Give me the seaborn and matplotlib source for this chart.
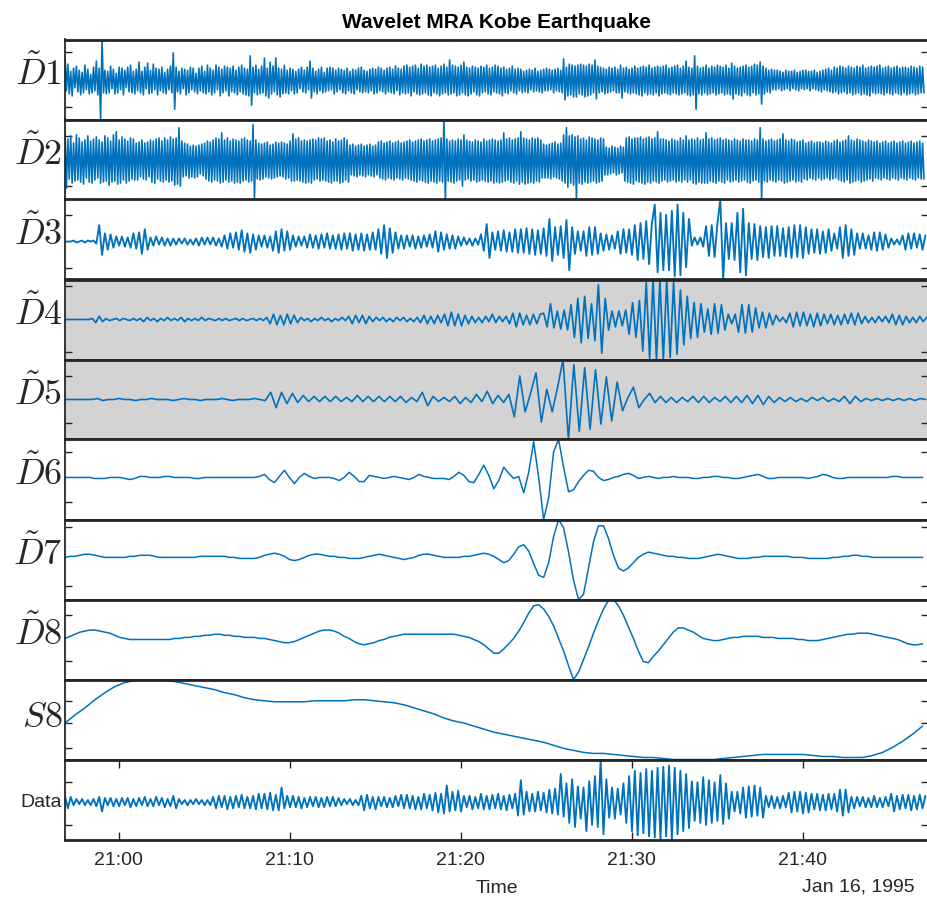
import numpy as np
import pandas as pd
import matplotlib
matplotlib.use("Agg")
import matplotlib.pyplot as plt
import matplotlib.dates as mdates
import seaborn as sns

# ---------------- data ----------------
start_time = "1995-01-16 20:56:51"
panel_names = ["D1", "D2", "D3", "D4", "D5", "D6", "D7", "D8", "S8", "Data"]
# sample spacing (seconds) of the values read for each panel
step_seconds = [5, 5, 10, 12, 19, 17.5, 17.5, 17.5, 35, 10]
x_tick_labels = ["21:00", "21:10", "21:20", "21:30", "21:40"]

d1 = [24, -10, 16, -13, 9, -15, 12, -7, 14, -11,
      10, -14, 8, -12, 15, -9, 11, -13, 6, -12,
      13, -10, 19, -14, 12, -38, 40, -12, 10,
      -13, 9, -12, 14, -8, 11, -13, 7, -12, 13,
      -9, 12, -14, 10, -7, 13, -11, 15, -12, 9,
      -13, 11, -10, 18, -12, 9, -14, 13, -8, 17,
      -13, 10, -12, 16, -9, 12, -14, 11, -10, 13,
      -12, 8, -13, 11, -9, 14, -12, 27, -28,
      13, -11, 9, -13, 12, -8, 11, -14, 10, -12,
      13, -9, 12, -11, 7, -13, 12, -10, 14, -12,
      9, -13, 15, -11, 12, -14, 10, -12, 15, -9,
      13, -15, 11, -12, 14, -10, 13, -15, 12, -11,
      14, -12, 10, -14, 13, -11, 15, -13, 12, -14,
      11, -15, 24, -24, 13, -12, 15, -14, 11, -13,
      14, -12, 22, -15, 12, -17, 18, -13, 14, -11,
      22, -14, 12, -16, 11, -13, 15, -12, 10, -13,
      12, -10, 11, -13, 9, -12, 11, -8, 13, -11,
      10, -12, 13, -9, 19, -17, 12, -11, 9, -13,
      11, -10, 13, -12, 8, -11, 12, -10, 13, -9,
      12, -13, 10, -11, 12, -9, 11, -12, 10, -13,
      12, -10, 9, -12, 11, -13, 10, -9, 12, -11,
      13, -12, 10, -11, 9, -12, 11, -10, 12, -13,
      11, -12, 13, -10, 12, -11, 10, -13, 12, -11,
      13, -12, 11, -13, 14, -10, 12, -14, 11, -12,
      14, -13, 15, -12, 13, -15, 14, -11, 15, -13,
      12, -14, 16, -13, 14, -12, 15, -14, 13, -15,
      14, -12, 15, -13, 12, -15, 14, -13, 16, -12,
      13, -14, 20, -13, 15, -12, 14, -15, 13, -14,
      15, -12, 18, -14, 13, -15, 12, -13, 14, -11,
      13, -14, 12, -15, 14, -12, 13, -11, 15, -13,
      12, -14, 13, -11, 15, -12, 14, -13, 12, -15,
      13, -12, 11, -13, 12, -10, 14, -12, 11, -13,
      12, -10, 11, -12, 9, -11, 10, -12, 11, -9,
      10, -11, 12, -10, 9, -11, 10, -12, 11, -10,
      12, -10, 11, -9, 10, -12, 11, -10, 12, -11,
      10, -12, 21, -19, 13, -15, 16, -14, 15, -16,
      14, -16, 15, -13, 16, -14, 15, -16, 14, -15,
      16, -14, 15, -12, 20, -18, 14, -12, 13, -11, 12,
      -13, 11, -12, 13, -11, 12, -10, 13, -12, 11,
      -12, 15, -17, 12, -11, 13, -12, 11, -13, 12,
      -12, 14, -13, 12, -14, 13, -15, 14, -12, 13,
      -14, 15, -13, 12, -14, 13, -12, 14, -15, 13,
      -13, 14, -12, 15, -13, 12, -14, 13, -12, 14,
      -13, 15, -14, 12, -13, 14, -12, 19, -14, 13,
      -15, 12, -14, 24, -28, 14, -13, 12, -14,
      13, -12, 15, -14, 12, -13, 14, -12, 13, -14,
      15, -13, 14, -12, 13, -14, 15, -13, 12, -14,
      17, -18, 14, -13, 12, -14, 13, -15, 14, -12,
      15, -14, 13, -15, 14, -12, 16, -14, 15, -13, 18,
      -23, 14, -13, 12, -11, 10, -12, 11, -9, 10,
      -9, 10, -8, 9, -10, 8, -9, 10, -8, 9,
      -10, 9, -8, 10, -9, 8, -10, 9, -8, 10,
      -9, 10, -8, 9, -10, 9, -8, 10, -9, 8,
      -10, 9, -11, 10, -9, 11, -10, 12, -11, 10,
      -12, 13, -11, 12, -13, 14, -12, 13, -11, 12,
      -13, 14, -12, 13, -14, 12, -13, 14, -12, 13,
      -14, 15, -13, 12, -14, 13, -15, 14, -12, 13,
      -13, 14, -12, 15, -13, 12, -14, 13, -12, 14,
      -13, 12, -14, 13, -12, 14, -13, 12, -14, 13,
      -12, 13, -14, 12, -13, 14, -12, 13, -14, 12,
      -13, 14, -12, 13, -12]

d2 = [27, -27, 21, -18, 24, -22, 17, -20, 25, -19,
      22, -21, 18, -23, 20, -17, 24, -21, 19, -22,
      21, -19, 23, -17, 20, -22, 18, -21, 24, -20,
      22, -24, 19, -21, 25, -20, 28, -23, 20, -22,
      23, -19, 21, -22, 19, -20, 22, -18, 21, -19,
      17, -19, 18, -16, 20, -18, 17, -19, 18, -16,
      20, -21, 19, -22, 21, -18, 22, -20, 19, -21,
      22, -19, 20, -21, 23, -20, 21, -24, 22, -23,
      32, -25, 19, -16, 17, -15, 16, -17, 14, -16,
      15, -17, 14, -16, 15, -13, 16, -15, 17, -18,
      19, -20, 18, -21, 20, -19, 22, -20, 21, -22,
      27, -21, 20, -19, 22, -21, 19, -20, 21, -22,
      20, -21, 19, -22, 21, -20, 22, -19, 20, -21,
      19, -20, 35, -37, 20, -18, 17, -19, 16, -18,
      17, -16, 18, -17, 15, -18, 16, -17, 18, -16,
      17, -15, 18, -16, 17, -18, 16, -17, 19, -20,
      26, -20, 21, -19, 22, -20, 19, -21, 20, -22,
      19, -21, 20, -22, 21, -19, 20, -18, 22, -20,
      21, -19, 22, -20, 19, -21, 20, -22, 18, -20,
      21, -20, 19, -22, 20, -21, 22, -19, 20, -21,
      15, -14, 16, -15, 14, -16, 15, -14, 16, -15,
      14, -16, 15, -14, 16, -15, 14, -16, 15, -14,
      18, -17, 19, -18, 17, -19, 18, -17, 19, -18,
      17, -19, 18, -17, 19, -18, 17, -19, 18, -17,
      19, -18, 20, -19, 18, -20, 19, -21, 20, -19,
      21, -20, 19, -21, 20, -22, 21, -20, 19, -21,
      20, -22, 21, -20, 22, -21, 40, -38, 21,
      -20, 19, -21, 20, -22, 19, -20, 21, -19, 20,
      -25, 25, -19, 20, -18, 19, -20, 18, -19, 20,
      -21, 19, -20, 18, -19, 21, -20, 19, -21, 20,
      -20, 21, -22, 20, -21, 19, -22, 20, -21, 27,
      -20, 21, -19, 22, -21, 20, -22, 21, -20, 22,
      -23, 28, -21, 22, -23, 21, -22, 20, -21, 22,
      -22, 21, -20, 22, -21, 20, -17, 16, -17, 15,
      -17, 16, -18, 17, -16, 18, -17, 16, -18, 17,
      -20, 25, -22, 32, -26, 24, -22, 25, -24, 23,
      -37, 24, -22, 21, -23, 22, -21, 20, -22, 23,
      -21, 22, -20, 21, -22, 20, -21, 22, -20, 21,
      -14, 13, -14, 12, -13, 14, -12, 13, -14, 12,
      -13, 14, -12, 13, -20, 22, -21, 23, -22, 21,
      -23, 22, -20, 22, -21, 23, -22, 21, -23, 22,
      -21, 23, -22, 21, -20, 22, -21, 28, -22, 21,
      -20, 21, -19, 20, -21, 19, -20, 21, -19, 20,
      -21, 19, -20, 22, -21, 20, -19, 24, -21, 20,
      -19, 21, -22, 20, -23, 22, -21, 20, -22, 21,
      -22, 27, -22, 21, -20, 22, -21, 20, -22, 21,
      -20, 22, -21, 20, -22, 21, -19, 20, -21, 19,
      -20, 21, -19, 20, -21, 19, -20, 21, -19, 20,
      -21, 20, -22, 19, -20, 21, -19, 20, -21, 32,
      -37, 21, -20, 19, -21, 20, -19, 21, -20, 19,
      -21, 20, -19, 21, -20, 26, -22, 20, -21, 19,
      -20, 21, -19, 20, -21, 18, -20, 19, -21, 20,
      -18, 17, -19, 18, -17, 19, -18, 17, -19, 18,
      -17, 18, -19, 17, -18, 19, -17, 18, -19, 17,
      -18, 19, -17, 20, -19, 18, -20, 19, -21, 20,
      -19, 24, -22, 20, -21, 19, -20, 21, -19, 20,
      -21, 19, -20, 18, -19, 20, -18, 19, -20, 18,
      -17, 19, -18, 17, -19, 18, -17, 19, -18, 17,
      -19, 18, -17, 19, -18, 17, -19, 18, -17, 19,
      -18, 17, -19, 18, -17, 19, -18, 17, -19, 18,
      -17, 19, -18, 17, -18]

d3 = [0, 0, 0, 1, -1, 0, 1, -1, 1, 0,
      1, -2, 16, -13, 8, -8, 7, -6, 5, -4,
      5, -5, 4, -6, 8, -7, 9, -12, 12, -8,
      4, -4, 5, -3, 4, -4, 3, -4, 3, -3,
      3, -2, 3, -3, 2, -3, 3, -4, 4, -3,
      4, -3, 4, -4, 3, -5, 6, -7, 8, -6,
      9, -8, 11, -10, 8, -11, 7, -8, 6, -5,
      6, -6, 5, -9, 10, -11, 12, -9, 10, -8,
      6, -5, 5, -4, 5, -6, 7, -6, 6, -7,
      7, -6, 8, -7, 6, -7, 7, -8, 8, -7,
      8, -9, 7, -8, 8, -9, 7, -8, 9, -8,
      12, -12, 16, -16, 13, -11, 9, -7, 6, -7,
      6, -5, 6, -7, 5, -6, 6, -5, 7, -6,
      10, -10, 9, -8, 7, -7, 6, -7, 5, -4,
      4, -3, 3, -4, 3, -3, 7, -9, 17, -16,
      9, -8, 10, -9, 11, -10, 9, -10, 12, -11,
      12, -11, 13, -12, 12, -13, 11, -12, 13, -14,
      22, -19, 14, -13, 15, -16, 21, -28, 14, -12,
      10, -9, 10, -14, 14, -13, 14, -12, 8, -9,
      7, -8, 6, -7, 10, -12, 12, -11, 12, -13,
      16, -18, 18, -17, 20, -22, 18, 36, -30, 28,
      -28, 26, -28, 30, -34, 36, -33, 28, -25, 22,
      -4, 4, -3, 4, -5, 15, -14, 16, -15, 18,
      41, -37, 18, -17, 18, -18, 28, -30, 32, -33,
      18, -17, 17, -18, 15, -15, 14, -16, 15, -14,
      15, -14, 13, -15, 14, -16, 16, -15, 16, -16,
      14, -12, 12, -11, 12, -12, 10, -11, 12, -9,
      8, -7, 14, -16, 16, -14, 12, -13, 8, -7,
      8, -7, 6, -8, 9, -9, 9, -8, 7, -6,
      3, -3, 2, -3, 6, -8, 8, -7, 8, -6,
      7, -8, 6]

d4 = [0, 0, 0, 0, 0, 0, 0, 0, 1, -3,
      3, -2, 1, -1, 0, 1, -1, 1, 0, -1,
      1, -1, 1, -2, 2, -1, 1, -2, 1, -1,
      2, -1, 1, -1, 2, -2, 1, -1, 1, -1,
      2, -1, 1, 0, -1, 1, -1, 1, -1, 0,
      1, -1, 1, -1, 0, 1, -1, 1, -1, 2,
      -4, 5, -5, 4, -5, 5, -4, 4, -3, 2,
      -1, 1, -2, 1, -1, 2, -1, 1, -2, 1,
      -1, 2, -1, 3, -4, 4, -3, 4, -4, 3,
      -2, 2, -1, 2, -2, 1, -2, 2, -1, 2,
      -2, 1, -2, 2, -3, 4, -4, 3, -4, 4,
      -3, 5, -6, 7, -6, 5, -6, 4, -4, 3,
      -3, 2, -3, 3, -2, 5, -3, 3, -2, 3,
      -4, 6, -7, 6, -5, 4, -5, 5, -4, 5,
      6, -7, 15, -8, 8, -9, 9, -10, 14, -17,
      20, -22, 22, -18, 15, -20, 33, -32, 20, -10,
      8, -7, 8, -6, 9, -14, 16, -17, 18, -30,
      35, -37, 38, -38, 37, -38, 38, -36, 35, -33,
      28, -24, 22, -18, 16, -17, 15, -12, 10, -14,
      15, -13, 14, -10, 5, -4, 5, -12, 14, -13,
      14, -12, 11, -8, 7, -8, 6, -5, 4, -2,
      2, -3, 6, -7, 7, -6, 7, -6, 5, -7,
      6, -6, 5, -4, 5, -5, 4, -5, 5, -4,
      6, -5, 6, -4, 3, -3, 2, -3, 3, -2,
      3, -3, 5, -5, 4, -5, 3, -3, 2, -3,
      3, -2, 2]

d5 = [0, 0, 0, 0, 0, 0, 1, -1, 0, 0,
      1, 0, 0, -1, 0, 0, 1, 0, 0, 0,
      -1, 0, 1, 0, 0, -1, 0, 0, 0, 1,
      0, -1, 0, 0, 0, 1, 0, -1, 7, -8,
      7, -4, 6, -3, 4, -2, 3, -2, 3, -2,
      3, -2, 2, -2, 4, -2, 3, -2, 3, -2,
      3, -2, 3, -3, 2, -2, 7, -6, 3, -2,
      2, -2, 3, -4, 2, -3, 5, -2, 8, -4,
      4, -3, 5, -17, 23, -12, 6, 26, -22, 10,
      -12, 12, 39, -39, 34, -31, 31, -29, 29, -24,
      22, -21, 17, -11, 2, 12, -8, 0, 6, -3,
      3, -3, 2, -3, 2, -2, 3, -3, 3, -3,
      2, -2, 3, -3, 3, -3, 4, -4, 4, -5,
      3, -3, 2, -2, 2, -2, 1, -2, 2, -1,
      2, -2, 1, -2, 3, -4, 3, -2, 1, -1,
      1, -1, 1, -1, 1, -1, 1, -1, 1, 0]

d6 = [0, 0, 0, 0, 0, 0, -1, -1, -1, 0,
      0, 0, -1, -2, -1, 1, 1, 0, 0, 0,
      1, 1, 0, 0, 0, 0, -1, -1, 0, 0,
      0, 0, 0, 0, 0, 0, 0, 0, 0, 1,
      3, -2, -5, 1, 7, 0, -6, 0, 4, 1,
      -1, 0, 0, 0, -1, -3, 0, 5, 1, -4,
      -4, 2, 1, 0, -1, 0, 1, 0, -1, -2,
      0, 3, 1, 0, -1, -1, -1, -2, 1, 5,
      2, -4, -5, 3, 12, 2, -11, -3, 10, 4,
      -1, 1, -15, 5, 35, 0, -41, -20, 25, 37,
      10, -14, -12, -4, 2, 7, 6, 0, -3, -2,
      0, 1, 3, 4, 2, -1, 0, 1, 0, -1,
      0, 0, 1, 0, 0, 0, -1, -1, 0, 0,
      1, 1, 0, 0, -1, -1, 0, 1, 2, 3,
      1, -1, -1, 0, 0, 0, 0, 0, 0, -1,
      0, 1, 3, 2, 0, -1, -1, 0, 0, 0,
      0, 0, 0, 0, 0, 0, 1, 1, 0, 0,
      0, 0, 0]

d7 = [0, 1, 1, 2, 3, 3, 2, 1, 0, 0,
      0, 0, 0, 1, 1, 2, 2, 2, 1, 0,
      0, 0, 0, 0, 0, 0, 0, 1, 1, 1,
      1, 1, 1, 0, 0, -1, -1, -1, -1, 0,
      2, 3, 4, 3, 1, -2, -3, -2, 0, 2,
      3, 3, 2, 1, 1, 0, 0, -1, -1, -1,
      0, 1, 2, 3, 2, 1, 0, -1, -2, -1,
      0, 2, 3, 3, 2, 1, 0, 0, 0, 0,
      1, 1, 2, 3, 4, 3, 1, -2, -5, -3,
      3, 10, 12, 6, -6, -17, -19, -5, 20, 36,
      28, 5, -22, -40, -35, -10, 15, 30, 30, 18,
      2, -10, -13, -10, -5, 0, 3, 5, 4, 3,
      2, 1, 1, 0, 0, -1, -1, -1, 0, 1,
      2, 3, 2, 1, 0, -1, -1, -1, 0, 0,
      1, 1, 1, 1, 1, 1, 0, 0, 0, -1,
      -1, -1, -1, -1, 0, 0, 1, 1, 2, 2,
      1, 1, 0, 0, 0, 0, 0, 0, 0, 0,
      0, 0, 0]

d8 = [0, 2, 4, 6, 7, 8, 8, 7, 6, 5,
      3, 1, 0, -1, -1, -1, -1, -1, -1, -1,
      -1, -1, 0, 0, 1, 1, 2, 2, 3, 3,
      4, 4, 3, 3, 2, 2, 1, 1, 1, 0,
      0, -1, -2, -3, -4, -4, -3, -1, 1, 3,
      5, 7, 8, 8, 7, 5, 2, 0, -3, -5,
      -6, -5, -4, -2, -1, 1, 2, 3, 4, 4,
      4, 4, 4, 4, 4, 4, 4, 4, 4, 3,
      2, 1, -1, -3, -6, -10, -14, -14, -10, -5,
      0, 7, 15, 24, 31, 32, 28, 21, 12, 0,
      -12, -26, -39, -32, -20, -8, 5, 17, 28, 36,
      37, 31, 22, 11, 0, -12, -22, -23, -17, -12,
      -6, 0, 6, 10, 10, 8, 6, 3, 0, -1,
      -2, -2, -1, 0, 1, 1, 2, 2, 2, 2,
      1, 1, 1, 0, 0, 0, 0, -1, -1, -2,
      -2, -2, -1, 0, 1, 2, 3, 4, 4, 5,
      5, 5, 4, 3, 2, 1, 0, -1, -3, -5,
      -6, -6, -5]

s8 = [37, 45, 52, 60, 67, 73, 77, 79, 80, 80,
      79, 78, 76, 74, 72, 70, 67, 65, 62, 60,
      59, 58, 58, 58, 58, 59, 59, 59, 59, 60,
      60, 59, 58, 57, 55, 52, 49, 46, 42, 39,
      37, 34, 31, 28, 26, 24, 22, 20, 18, 15,
      12, 10, 8, 7, 7, 6, 5, 4, 3, 3,
      2, 1, 1, 1, 1, 1, 2, 3, 4, 5,
      6, 6, 6, 6, 6, 5, 4, 4, 3, 3,
      3, 5, 8, 13, 19, 26, 34]

data = [6, -6, 5, -3, 3, -2, 3, -3, 2, -3,
        3, -4, 5, -9, 4, -3, 4, -4, 3, -4,
        4, -3, 4, -5, 3, -4, 4, -3, 5, -4,
        3, -4, 5, -3, 4, -5, 3, -4, 6, -6,
        3, -2, 2, -3, 2, -2, 3, -2, 2, -3,
        2, -3, 5, -6, 6, -5, 6, -7, 5, -6,
        6, -5, 7, -6, 5, -6, 6, -7, 8, -6,
        8, -7, 9, -8, 7, -8, 14, -6, 6, -5,
        6, -5, 5, -6, 4, -5, 5, -4, 5, -5,
        4, -5, 5, -4, 5, -4, 4, -3, 3, -2,
        3, -3, 2, -3, 6, -8, 7, -6, 5, -7,
        5, -4, 5, -5, 4, -5, 6, -4, 7, -6,
        7, -6, 6, -7, 5, -7, 8, -6, 7, -8,
        9, -10, 8, -11, 16, -9, 10, -8, 11, -9,
        6, -5, 6, -7, 5, -6, 8, -7, 6, -7,
        7, -6, 8, -7, 6, -8, 7, -6, 8, -13,
        21, -12, 10, -9, 8, -9, 10, -8, 9, -10,
        12, -11, 13, -12, 27, -14, 18, -20, 22, -24,
        15, -16, 14, -28, 20, -22, 25, -24, 41, -31,
        22, -15, 14, -16, 13, -12, 18, -20, 25, -28,
        30, -32, 28, -30, 32, -33, 30, -34, 33, -36,
        34, -33, 35, -36, 33, -31, 30, -28, 27, -25,
        20, -18, 19, -20, 24, -22, 21, -20, 19, -18,
        26, -21, 18, -16, 10, -9, 10, -11, 14, -15,
        15, -14, 16, -13, 14, -15, 6, -5, 6, -6,
        5, -6, 6, -5, 9, -10, 10, -9, 10, -11,
        9, -10, 8, -7, 8, -8, 7, -8, 8, -7,
        8, -9, 12, -13, 12, -10, 5, -6, 5, -4,
        5, -5, 4, -5, 6, -5, 4, -5, 5, -4,
        8, -9, 6, -7, 7, -6, 7, -8, 6, -7,
        7, -6, 6]

series = [d1, d2, d3, d4, d5, d6, d7, d8, s8, data]
y_tick_values = [[-26, 28], [-25, 24], [-26, 26], [-31, 32], [-23, 23],
                 [-24, 25], [-27, 29], [-21, 22], [12, 37, 59], [-22, 19]]
panel_labels = [r"$\tilde{D}1$", r"$\tilde{D}2$", r"$\tilde{D}3$", r"$\tilde{D}4$",
                r"$\tilde{D}5$", r"$\tilde{D}6$", r"$\tilde{D}7$", r"$\tilde{D}8$",
                r"$S8$", "Data"]
shaded_panels = ["D4", "D5"]

# ---------------- styling ----------------
sns.set_style("white")
plt.rcParams["font.family"] = ["Liberation Sans", "DejaVu Sans"]
plt.rcParams["mathtext.fontset"] = "cm"

BLUE = "#0072BD"
AXC = "#262626"
GRAY = "#D3D3D3"
line_widths = {"D1": 1.2, "D2": 1.2, "D3": 1.35, "D4": 1.25, "D5": 1.2,
               "D6": 1.1, "D7": 1.1, "D8": 1.1, "S8": 1.1, "Data": 1.35}

W, H = 927, 899
fig = plt.figure(figsize=(W / 100, H / 100), dpi=100)
fig.patch.set_facecolor("white")

ax_left = 65 / W
ax_width = (928 - 65) / W
top_px = 39.5
panel_px = 80.0

t0 = pd.Timestamp(start_time)
x_end = t0 + pd.Timedelta(seconds=3029)

axes = []
for k, (name, vals, step) in enumerate(zip(panel_names, series, step_seconds)):
    y0 = 1 - (top_px + panel_px * (k + 1)) / H
    ax = fig.add_axes([ax_left, y0, ax_width, panel_px / H])
    axes.append(ax)
    vals = np.asarray(vals, dtype=float)
    times = t0 + pd.to_timedelta(np.arange(len(vals)) * step, unit="s")
    df = pd.DataFrame({"time": times, "value": vals})
    sns.lineplot(data=df, x="time", y="value", ax=ax, color=BLUE,
                 linewidth=line_widths[name], sort=False, estimator=None)
    ax.set_xlim(t0, x_end)
    ax.set_ylim(vals.min(), vals.max())
    ax.set_facecolor(GRAY if name in shaded_panels else "white")
    ax.set_xlabel("")
    ax.set_yticks(y_tick_values[k])
    ax.tick_params(axis="y", direction="in", left=True, right=True,
                   labelleft=False, length=5, width=1.0, color=AXC)
    for side in ["left", "right"]:
        ax.spines[side].set_linewidth(1.3)
        ax.spines[side].set_color(AXC)
    for side in ["top", "bottom"]:
        ax.spines[side].set_linewidth(2.0)
        ax.spines[side].set_color(AXC)
    if name == "Data":
        ax.set_ylabel(panel_labels[k], rotation=0, fontsize=14, color=AXC,
                      ha="right", va="center")
        ax.yaxis.set_label_coords(-0.004, 0.46)
    else:
        ax.set_ylabel(panel_labels[k], rotation=0, fontsize=26, color=AXC,
                      ha="right", va="center")
        ax.yaxis.set_label_coords(-0.003, 0.56 if name != "S8" else 0.52)
    if name == "Data":
        tick_times = [pd.Timestamp("1995-01-16 " + s) for s in x_tick_labels]
        ax.set_xticks(tick_times)
        ax.xaxis.set_major_formatter(mdates.DateFormatter("%H:%M"))
        ax.tick_params(axis="x", direction="in", top=True, bottom=True,
                       length=6, width=1.0, color=AXC, labelsize=14,
                       labelcolor=AXC, pad=9)
        ax.set_xlabel("Time", fontsize=14, color=AXC, labelpad=8)
    else:
        ax.set_xticks([])
        ax.tick_params(axis="x", bottom=False, top=False, labelbottom=False)

axes[0].set_title("Wavelet MRA Kobe Earthquake", fontsize=15, fontweight="bold",
                  color="black", pad=8)
fig.text(915 / W, 1 - 887 / H, "Jan 16, 1995", ha="right", va="center",
         fontsize=14, color=AXC)

fig.savefig("out.png", dpi=100, facecolor="white")
